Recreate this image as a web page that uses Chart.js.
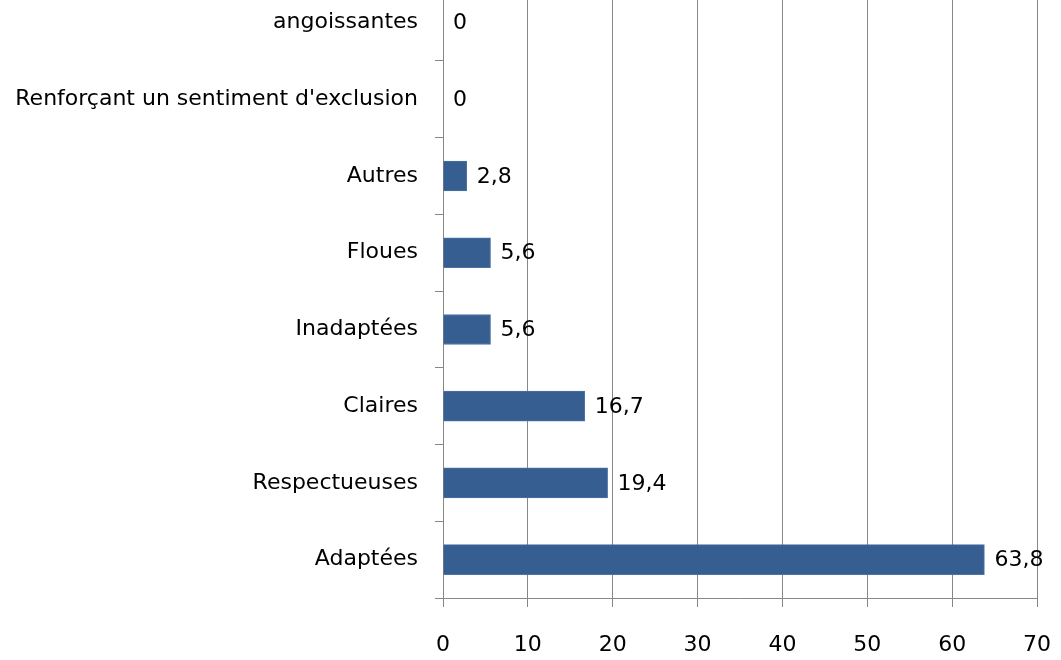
<!DOCTYPE html>
<html lang="fr">
<head>
<meta charset="UTF-8">
<title>Réponses</title>
<script src="https://cdn.jsdelivr.net/npm/chart.js@4/dist/chart.umd.min.js"></script>
<style>
  html, body { margin: 0; padding: 0; background: #fff; overflow: hidden; }
  #wrap { position: absolute; left: 0; top: -46px; width: 1061px; height: 706px; }
</style>
</head>
<body>
<div id="wrap"><canvas id="chart"></canvas></div>
<script>
const categories = ['angoissantes', "Renforçant un sentiment d'exclusion", 'Autres', 'Floues',
  'Inadaptées', 'Claires', 'Respectueuses', 'Adaptées'];
const values = [0, 0, 2.8, 5.6, 5.6, 16.7, 19.4, 63.8];
const xTicks = [0, 10, 20, 30, 40, 50, 60, 70];

const FONT = '"Comic Sans MS", "DejaVu Sans", sans-serif';
const gridColor = '#878787';

// draws the value next to each bar, with a French decimal comma
const valueLabels = {
  id: 'valueLabels',
  afterDatasetsDraw(chart) {
    const ctx = chart.ctx;
    const meta = chart.getDatasetMeta(0);
    ctx.save();
    ctx.font = '22px ' + FONT;
    ctx.fillStyle = '#000';
    ctx.textAlign = 'left';
    ctx.textBaseline = 'middle';
    meta.data.forEach((bar, i) => {
      const txt = String(values[i]).replace('.', ',');
      ctx.fillText(txt, bar.x + 10, bar.y + 1);
    });
    ctx.restore();
  }
};

new Chart(document.getElementById('chart'), {
  type: 'bar',
  data: {
    labels: categories,
    datasets: [{
      data: values,
      backgroundColor: '#375E90',
      borderColor: '#4D72A3',
      borderWidth: 1,
      barThickness: 30
    }]
  },
  options: {
    indexAxis: 'y',
    responsive: true,
    maintainAspectRatio: false,
    animation: false,
    layout: { padding: 0 },
    plugins: { legend: { display: false }, tooltip: { enabled: false } },
    scales: {
      x: {
        min: 0,
        max: 70,
        afterBuildTicks: (axis) => { axis.ticks = xTicks.map(v => ({ value: v })); },
        afterFit: (axis) => {
          axis.height = 62;
          axis.paddingLeft = 0;
          axis.paddingRight = 24;
        },
        grid: { color: gridColor, lineWidth: 1, tickLength: 9, drawTicks: true },
        border: { color: gridColor, width: 1 },
        ticks: { color: '#000', font: { family: FONT, size: 22 }, padding: 25 }
      },
      y: {
        afterFit: (axis) => { axis.width = 443; },
        grid: { drawOnChartArea: false, color: gridColor, tickLength: 8, offset: true },
        border: { color: gridColor, width: 1 },
        ticks: { color: '#000', font: { family: FONT, size: 22 }, padding: 17 }
      }
    }
  },
  plugins: [valueLabels]
});
</script>
</body>
</html>
